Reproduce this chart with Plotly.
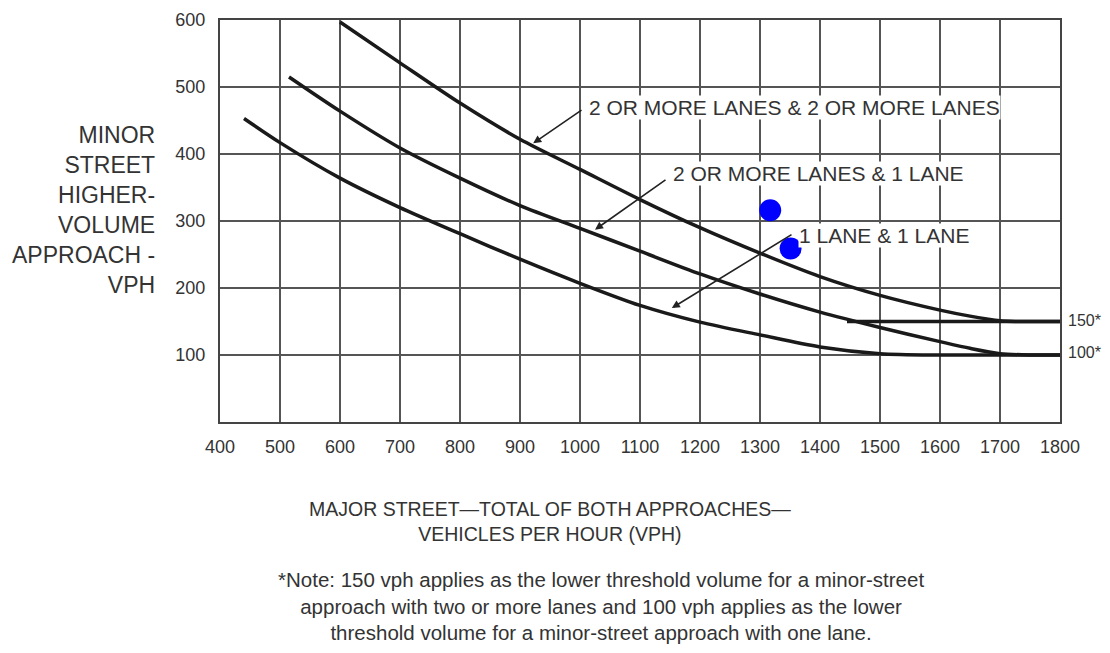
import plotly.graph_objects as go

# Curve data
x_2and2 = [600, 700, 800, 900, 1000, 1100, 1200, 1300, 1400, 1500, 1600, 1650, 1700, 1730, 1800]
y_2and2 = [597, 536, 476, 422, 377, 332, 290, 252, 217, 189, 167, 158, 151, 150, 150]

x_2and1 = [515, 600, 700, 800, 900, 1000, 1100, 1200, 1300, 1400, 1500, 1600, 1650, 1700, 1750, 1800]
y_2and1 = [515, 464, 409, 364, 323, 289, 255, 221, 191, 164, 141, 120, 110, 102, 100, 100]

x_1and1 = [440, 500, 600, 700, 800, 900, 1000, 1100, 1200, 1300, 1400, 1500, 1600, 1700, 1800]
y_1and1 = [453, 417, 364, 320, 281, 243, 207, 174, 149, 130, 112, 102, 100, 100, 100]

x_150 = [1445, 1800]
y_150 = [150, 150]

dots_x = [1317, 1351]
dots_y = [316, 259]

x_ticks = list(range(400, 1801, 100))
y_ticks = [100, 200, 300, 400, 500, 600]

labels = ["2 OR MORE LANES & 2 OR MORE LANES", "2 OR MORE LANES & 1 LANE", "1 LANE & 1 LANE"]
label_x = [1013, 1153, 1363]
label_y = [469, 371, 279]
arrow_tail_x = [1005, 1145, 1355]
arrow_tail_y = [467, 363, 281]
arrow_head_x = [922, 1025, 1153]
arrow_head_y = [416, 287, 170]

right_labels = ["150*", "100*"]
right_y = [152, 103]

FONT = "Liberation Sans, Arial, Helvetica, sans-serif"
TXT = "#333333"

fig = go.Figure()
for xs, ys in [(x_2and2, y_2and2), (x_2and1, y_2and1), (x_1and1, y_1and1), (x_150, y_150)]:
    fig.add_trace(go.Scatter(x=xs, y=ys, mode="lines", line=dict(color="#1a1a1a", width=3.5, shape="spline", smoothing=0.8),
                             showlegend=False, hoverinfo="skip"))

fig.add_trace(go.Scatter(x=dots_x, y=dots_y, mode="markers",
                         marker=dict(color="#0000ff", size=22, line=dict(width=0)), showlegend=False))

annotations = []
for t, lx, ly in zip(labels, label_x, label_y):
    annotations.append(dict(x=lx, y=ly, xref="x", yref="y", text=t, showarrow=False, xanchor="left",
                            yanchor="middle", bgcolor="white", borderpad=0,
                            font=dict(family=FONT, size=21, color=TXT)))
for tx, ty, hx, hy in zip(arrow_tail_x, arrow_tail_y, arrow_head_x, arrow_head_y):
    annotations.append(dict(x=hx, y=hy, xref="x", yref="y", ax=tx, ay=ty, axref="x", ayref="y", text="",
                            showarrow=True, arrowhead=2, arrowsize=1, arrowwidth=1.6, arrowcolor="#222222"))
for t, ry in zip(right_labels, right_y):
    annotations.append(dict(x=1.0, y=ry, xref="paper", yref="y", text=t, showarrow=False, xanchor="left",
                            xshift=6, yanchor="middle", font=dict(family=FONT, size=16, color=TXT)))

annotations.append(dict(x=-0.075, y=0.527, xref="paper", yref="paper", xanchor="right", yanchor="middle",
                        align="right", showarrow=False,
                        text="MINOR<br>STREET<br>HIGHER-<br>VOLUME<br>APPROACH -<br>VPH",
                        font=dict(family=FONT, size=23, color=TXT)))
annotations.append(dict(x=(550 - 220) / 840, y=(422 - 521) / 402, xref="paper", yref="paper", xanchor="center",
                        yanchor="middle", align="center", showarrow=False,
                        text="MAJOR STREET\u2014TOTAL OF BOTH APPROACHES\u2014<br>VEHICLES PER HOUR (VPH)",
                        font=dict(family=FONT, size=19.5, color=TXT)))
annotations.append(dict(x=(601 - 220) / 840, y=(422 - 606) / 402, xref="paper", yref="paper", xanchor="center",
                        yanchor="middle", align="center", showarrow=False,
                        text="*Note: 150 vph applies as the lower threshold volume for a minor-street<br>"
                             "approach with two or more lanes and 100 vph applies as the lower<br>"
                             "threshold volume for a minor-street approach with one lane.",
                        font=dict(family=FONT, size=20.5, color=TXT)))

fig.update_layout(
    width=1094, height=637, margin=dict(l=212, r=42, t=12, b=223, autoexpand=False),
    plot_bgcolor="white", paper_bgcolor="white",
    annotations=annotations,
    xaxis=dict(range=[400, 1800], tickvals=x_ticks, showgrid=True, gridcolor="#555555", gridwidth=1.6,
               showline=True, linecolor="#444444", linewidth=2, mirror=True, zeroline=False, automargin=False,
               ticks="", ticklabelstandoff=7, tickfont=dict(family=FONT, size=18, color=TXT)),
    yaxis=dict(range=[0, 600], tickvals=y_ticks, showgrid=True, gridcolor="#555555", gridwidth=1.6,
               showline=True, linecolor="#444444", linewidth=2, mirror=True, zeroline=False, automargin=False,
               ticks="", ticklabelstandoff=9, tickfont=dict(family=FONT, size=18, color=TXT)),
)

fig.write_html("out.html")
